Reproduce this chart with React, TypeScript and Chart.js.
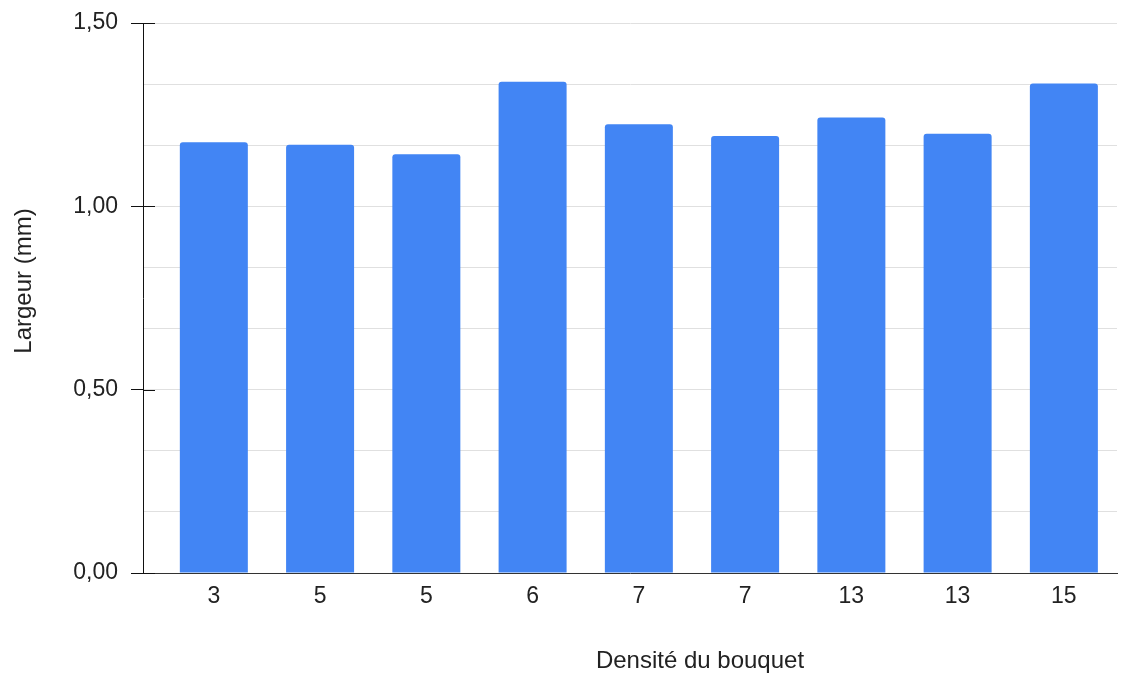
import React, { useEffect, useRef } from "react";
import { Chart, registerables } from "chart.js";

Chart.register(...registerables);

const categories = ["3", "5", "5", "6", "7", "7", "13", "13", "15"];
const widths = [1.175, 1.168, 1.142, 1.34, 1.224, 1.192, 1.242, 1.198, 1.335];
const yTickLabels = ["0,00", "0,50", "1,00", "1,50"];
const yMajorValues = [0, 0.5, 1, 1.5];
const xTitle = "Densité du bouquet";
const yTitle = "Largeur (mm)";

const FONT = "'Liberation Sans', Arial, sans-serif";
const TEXT = "#222222";

export default function App() {
  const ref = useRef<HTMLCanvasElement | null>(null);

  useEffect(() => {
    if (!ref.current) return;

    const decor = {
      id: "decor",
      afterDraw(chart: any) {
        const { ctx, chartArea } = chart;
        const y = chart.scales.y;
        ctx.save();
        // inner halves of the major tick marks
        ctx.strokeStyle = "#111111";
        ctx.lineWidth = 1;
        yMajorValues.forEach((v) => {
          const py = Math.round(y.getPixelForValue(v)) + 0.5;
          ctx.beginPath();
          ctx.moveTo(chartArea.left, py);
          ctx.lineTo(chartArea.left + 12, py);
          ctx.stroke();
        });
        // axis titles
        ctx.fillStyle = TEXT;
        ctx.font = `24px ${FONT}`;
        ctx.textAlign = "center";
        ctx.textBaseline = "alphabetic";
        ctx.fillText(xTitle, 700, 668);
        ctx.translate(31, 281);
        ctx.rotate(-Math.PI / 2);
        ctx.fillText(yTitle, 0, 0);
        ctx.restore();
      },
    };

    const chart = new Chart(ref.current, {
      type: "bar",
      data: {
        datasets: [
          {
            data: widths.map((v, i) => ({ x: i, y: v })),
            backgroundColor: "#4285F4",
            borderRadius: { topLeft: 3, topRight: 3, bottomLeft: 0, bottomRight: 0 },
            borderSkipped: "bottom",
            barPercentage: 0.64,
            categoryPercentage: 1,
          },
        ],
      },
      options: {
        responsive: false,
        animation: false,
        layout: { padding: { top: 23, right: 14, bottom: 0, left: 0 } },
        plugins: { legend: { display: false }, tooltip: { enabled: false } },
        scales: {
          x: {
            type: "linear",
            min: -2 / 3,
            max: 8.5,
            offset: false,
            grid: { display: true, color: "transparent", drawTicks: false, offset: false },
            border: { display: true, color: "#333333", width: 1 },
            afterBuildTicks: (axis: any) => {
              axis.ticks = categories.map((_, i) => ({ value: i }));
            },
            afterFit: (scale: any) => {
              scale.height = 101;
              scale.paddingLeft = 0;
              scale.paddingRight = 0;
            },
            ticks: {
              autoSkip: false,
              maxRotation: 0,
              padding: 10,
              color: TEXT,
              font: { family: FONT, size: 23 },
              callback: (_v: any, i: number) => categories[i],
            },
          },
          y: {
            min: 0,
            max: 1.5,
            afterBuildTicks: (axis: any) => {
              const t: any[] = [];
              for (let i = 0; i < yMajorValues.length - 1; i++) {
                const a = yMajorValues[i];
                const b = yMajorValues[i + 1];
                t.push({ value: a }, { value: a + (b - a) / 3 }, { value: a + (2 * (b - a)) / 3 });
              }
              t.push({ value: yMajorValues[yMajorValues.length - 1] });
              axis.ticks = t;
            },
            afterFit: (scale: any) => {
              scale.width = 143;
              scale.paddingTop = 0;
              scale.paddingBottom = 0;
            },
            grid: {
              color: "#e0e0e0",
              lineWidth: 1,
              tickLength: 12,
              tickColor: (c: any) => (c.index % 3 === 0 ? "#111111" : "transparent"),
            },
            border: { display: true, color: "#111111", width: 1 },
            ticks: {
              padding: 13,
              color: TEXT,
              font: { family: FONT, size: 23 },
              callback: (_v: any, i: number) => (i % 3 === 0 ? yTickLabels[i / 3] : ""),
            },
          },
        },
      },
      plugins: [decor],
    } as any);

    return () => chart.destroy();
  }, []);

  return (
    <div style={{ position: "absolute", left: 0, top: 0, width: 1131, height: 674, background: "#ffffff" }}>
      <canvas ref={ref} width={1131} height={674} />
    </div>
  );
}
